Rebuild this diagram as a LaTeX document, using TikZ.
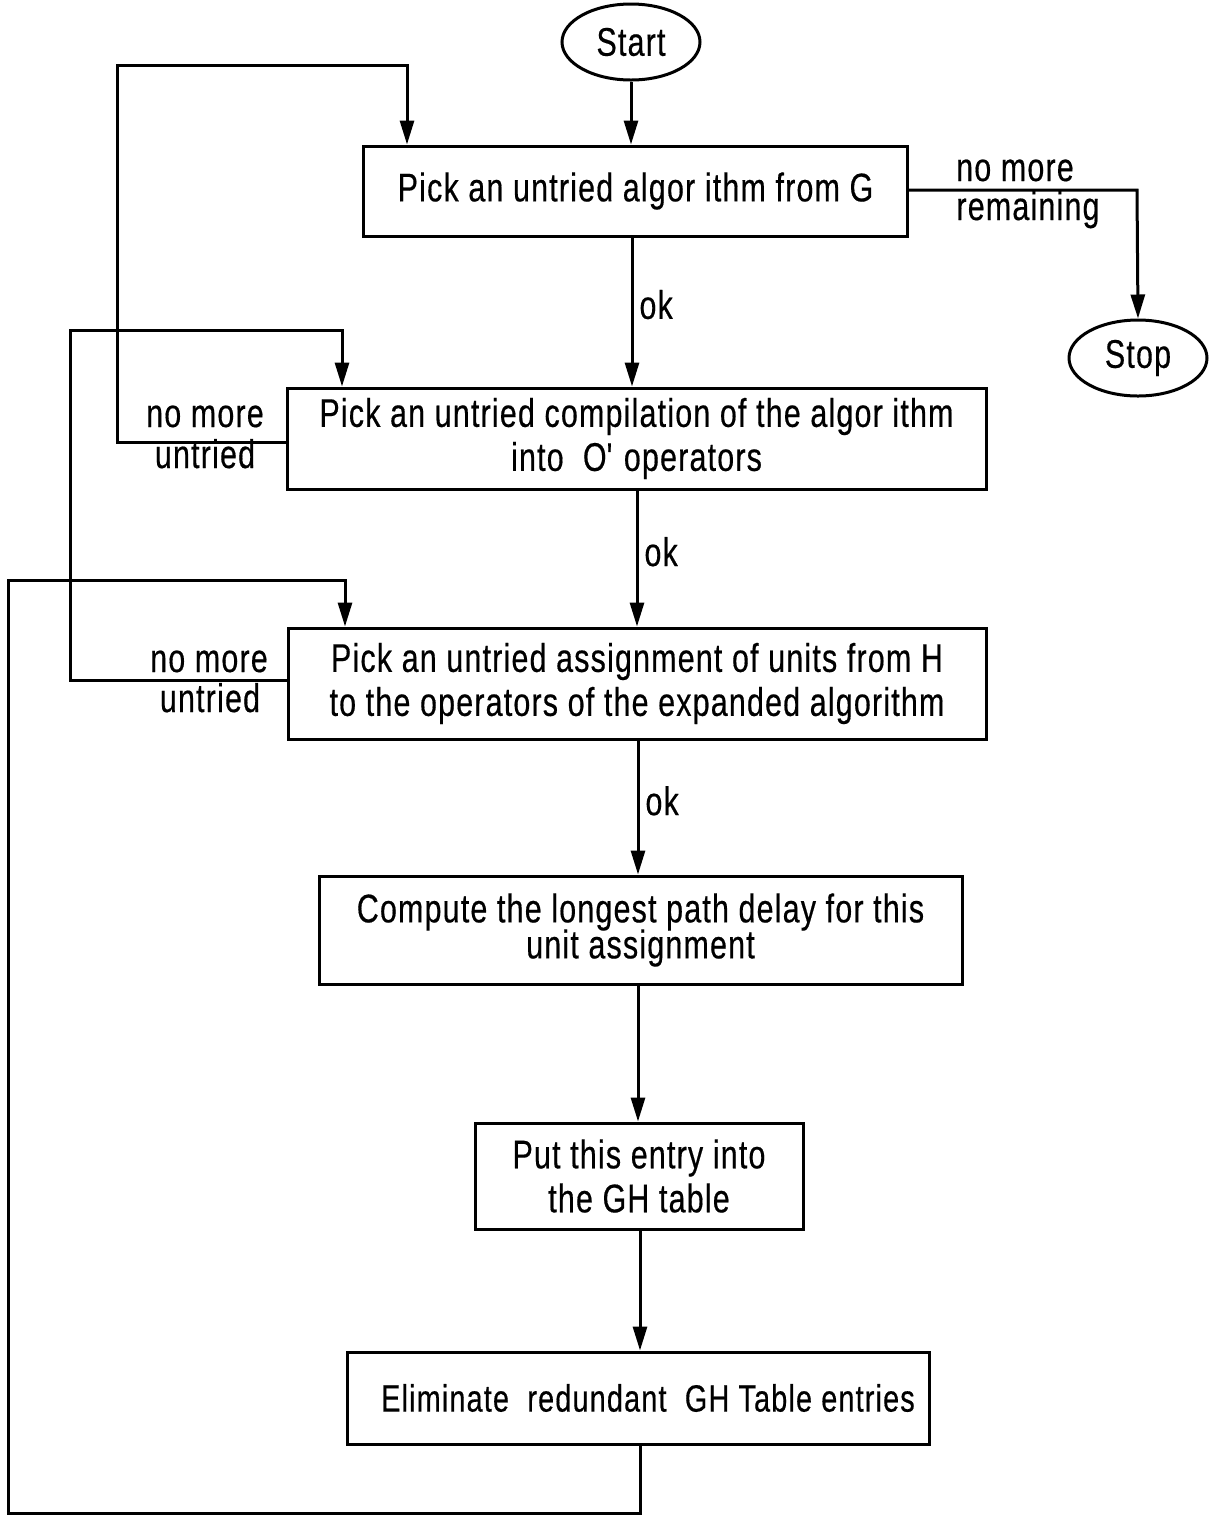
\documentclass[tikz,border=0pt]{standalone}
\usepackage{fontspec}
\setmainfont{Liberation Sans}[FakeStretch=0.76,FakeBold=0.4,LetterSpace=3]
\usetikzlibrary{arrows.meta,shapes.geometric}
\begin{document}
\begin{tikzpicture}[x=0.5pt,y=-0.5pt,
  line width=1.5pt,
  font=\fontsize{20pt}{22pt}\selectfont,
  tip/.style={-{Stealth[length=12pt,width=7pt,inset=0pt]}},
  procbox/.style={draw,rectangle,align=center,inner sep=0pt,line width=1.5pt},
  term/.style={draw,ellipse,inner sep=0pt,minimum width=69pt,minimum height=38pt},
  lbl/.style={inner sep=0pt,align=center}]
\useasboundingbox (0,0) rectangle (1210,1517);

% terminals
\node[term] (start) at (631,42) {Start};
\node[term] (stop) at (1138,358) {Stop};

% process boxes
\node[procbox,minimum width=272pt,minimum height=45pt] (pickG) at (635.5,191)
  {Pick an untried algor ithm from G};
\node[procbox,minimum width=349.5pt,minimum height=50.5pt] (pickC) at (636.5,438.5)
  {Pick an untried compilation of the algor ithm\\into\ \ O\textquotesingle\ operators};
\node[procbox,minimum width=349pt,minimum height=55.5pt] (pickH) at (637,683.5)
  {Pick an untried assignment of units from H\\to the operators of the expanded algorithm};
\node[procbox,minimum width=321.5pt,minimum height=54pt] (delay) at (640.5,930)
  {Compute the longest path delay for this\\[-4pt]unit assignment};
\node[procbox,minimum width=164pt,minimum height=53pt] (put) at (639,1176)
  {Put this entry into\\the GH table};
\node[procbox,minimum width=291pt,minimum height=46pt,
  font=\fontsize{19pt}{21pt}\selectfont] (elim) at (638,1398)
  {\hspace*{10pt}Eliminate\ \ redundant\ \ GH Table entries};

% main flow
\draw[tip] (start.south) -- (pickG.north -| start.south);
\draw[tip] (pickG.south -| 632,0) -- node[lbl,right=3pt,pos=0.45] {ok} (pickC.north -| 632,0);
\draw[tip] (pickC.south -| 637,0) -- node[lbl,right=3pt,pos=0.45] {ok} (pickH.north -| 637,0);
\draw[tip] (pickH.south -| 638,0) -- node[lbl,right=3pt,pos=0.45] {ok} (delay.north -| 638,0);
\draw[tip] (delay.south -| 638,0) -- (put.north -| 638,0);
\draw[tip] (put.south -| 640,0) -- (elim.north -| 640,0);

% exits and loops
\coordinate (rx) at (1137,190);
\draw[tip] (pickG.east |- rx) -- (rx) -- (stop.north);
\node[lbl,anchor=base] at (1015,181) {no more};
\node[lbl,anchor=base] at (1028,220) {remaining};

\coordinate (l1) at (117,442);
\draw[tip] (pickC.west |- l1) -- (l1) -- (117,65) -- (407,65) -- (pickG.north -| 407,0);
\node[lbl,anchor=base] at (205,427) {no more};
\node[lbl,anchor=base] at (205,468) {untried};

\coordinate (l2) at (70,680);
\draw[tip] (pickH.west |- l2) -- (l2) -- (70,330) -- (342,330) -- (pickC.north -| 342,0);
\node[lbl,anchor=base] at (209,672) {no more};
\node[lbl,anchor=base] at (210,712) {untried};

\draw[tip] (elim.south -| 640,0) -- (640,1513) -- (8,1513) -- (8,580) -- (345,580) -- (pickH.north -| 345,0);
\end{tikzpicture}
\end{document}
